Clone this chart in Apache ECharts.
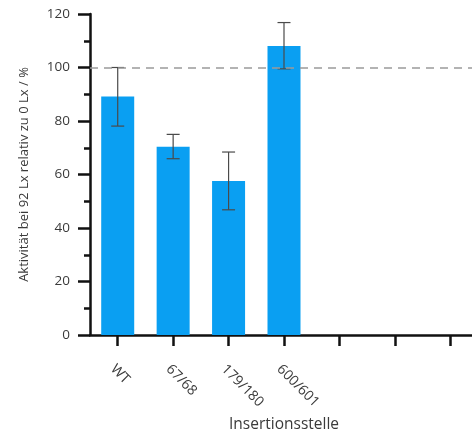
<!DOCTYPE html>
<html>
<head>
<meta charset="utf-8">
<script src="https://cdn.jsdelivr.net/npm/echarts@6/dist/echarts.min.js"></script>
<style>
  html, body { margin: 0; padding: 0; background: #ffffff; }
  #chart { width: 472px; height: 438px; }
</style>
</head>
<body>
<div id="chart"></div>
<script>
// Insertion sites (the axis keeps three more empty slots to the right)
const categories = ['WT', '67/68', '179/180', '600/601', '', '', ''];
// Mean activity at 92 Lx relative to 0 Lx, in %
const activity = [89.2, 70.4, 57.6, 108.0];
// Error bar ends (lower / upper)
const errLow = [78.1, 65.9, 46.8, 99.5];
const errHigh = [100.0, 75.0, 68.4, 116.8];
// Reference level
const referenceLevel = 100;
const yTicks = [0, 20, 40, 60, 80, 100, 120];

const FONT = '"Open Sans", "Noto Sans", sans-serif';
const TEXT = '#3a3a3a';

const chart = echarts.init(document.getElementById('chart'), null, { renderer: 'canvas' });

const errorData = activity.map((v, i) => [i, errLow[i], errHigh[i]]);

chart.setOption({
  animation: false,
  backgroundColor: '#ffffff',
  grid: {
    left: 90, right: -6, top: 14, bottom: 103,
    containLabel: false,
    outerBoundsMode: 'none'
  },
  xAxis: [{
    type: 'category',
    data: categories,
    boundaryGap: true,
    name: 'Insertionsstelle',
    nameLocation: 'middle',
    nameGap: 80,
    nameTextStyle: { fontFamily: FONT, fontSize: 15.5, color: TEXT },
    axisLine: { lineStyle: { color: '#111', width: 2.5 } },
    axisTick: {
      show: true,
      alignWithLabel: true,
      length: 11,
      lineStyle: { color: '#111', width: 2.5 },
      interval: 0
    },
    axisLabel: {
      rotate: -45,
      margin: 27,
      interval: 0,
      verticalAlign: 'top',
      fontFamily: FONT,
      fontSize: 14,
      color: TEXT
    }
  }],
  yAxis: {
    type: 'value',
    min: 0,
    max: 120,
    interval: 20,
    name: 'Aktivität bei 92 Lx relativ zu 0 Lx / %',
    nameLocation: 'middle',
    nameGap: 59,
    nameRotate: 90,
    nameTextStyle: { fontFamily: FONT, fontSize: 13, color: TEXT },
    axisLine: { show: true, lineStyle: { color: '#111', width: 2.5 } },
    axisTick: { show: true, length: 12, lineStyle: { color: '#111', width: 2.5 } },
    minorTick: { show: true, splitNumber: 2, length: 6, lineStyle: { color: '#111', width: 2.5 } },
    splitLine: { show: false },
    axisLabel: {
      margin: 20,
      fontFamily: FONT,
      fontSize: 13.5,
      color: TEXT,
      formatter: (v) => yTicks.includes(v) ? String(v) : ''
    }
  },
  series: [{
    type: 'bar',
    data: activity,
    barWidth: 33,
    itemStyle: { color: '#0a9ff2' },
    z: 2,
    markLine: {
      silent: true,
      symbol: 'none',
      label: { show: false },
      lineStyle: { color: '#9a9a9a', type: [8, 6], width: 1.5 },
      data: [{ yAxis: referenceLevel }]
    }
  }, {
    type: 'custom',
    data: errorData,
    z: 3,
    renderItem: (params, api) => {
      const x = api.value(0);
      const lo = api.coord([x, api.value(1)]);
      const hi = api.coord([x, api.value(2)]);
      const half = 6.5;
      const style = { stroke: '#4a4a4a', lineWidth: 1.2 };
      return {
        type: 'group',
        children: [
          { type: 'line', shape: { x1: hi[0], y1: hi[1], x2: lo[0], y2: lo[1] }, style },
          { type: 'line', shape: { x1: hi[0] - half, y1: hi[1], x2: hi[0] + half, y2: hi[1] }, style },
          { type: 'line', shape: { x1: lo[0] - half, y1: lo[1], x2: lo[0] + half, y2: lo[1] }, style }
        ]
      };
    }
  }]
});
</script>
</body>
</html>
